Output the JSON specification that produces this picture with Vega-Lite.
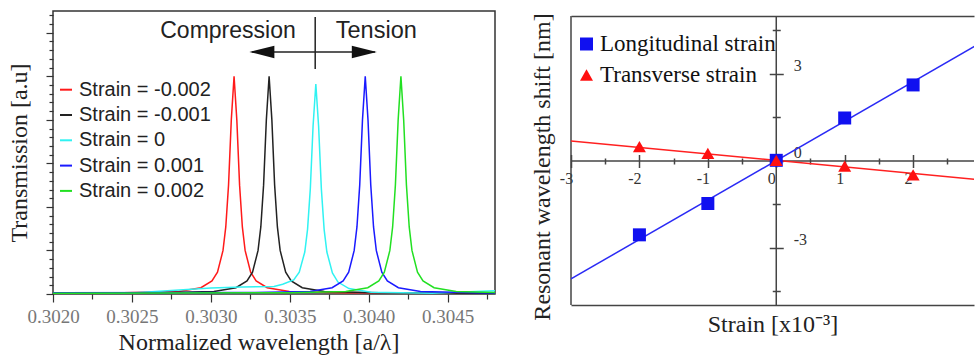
{
  "$schema": "https://vega.github.io/schema/vega-lite/v6.json",
  "background": "white",
  "padding": {"left": 6, "top": 10, "right": 0, "bottom": 0},
  "autosize": {"type": "pad"},
  "spacing": 34,
  "resolve": {"scale": {"color": "independent", "shape": "independent"}, "legend": {"color": "independent", "shape": "independent"}},
  "config": {"view": {"stroke": null}, "axis": {"grid": false}},
  "datasets": {
    "curves": [
      {"s":"-0.002","x":0.302,"y":0.004},{"s":"-0.002","x":0.302447,"y":0.006},{"s":"-0.002","x":0.302797,"y":0.012},{"s":"-0.002","x":0.302937,"y":0.029},{"s":"-0.002","x":0.303007,"y":0.06},{"s":"-0.002","x":0.303042,"y":0.1},{"s":"-0.002","x":0.303077,"y":0.2},{"s":"-0.002","x":0.3030945,"y":0.308},{"s":"-0.002","x":0.303112,"y":0.5},{"s":"-0.002","x":0.3031295,"y":0.8},{"s":"-0.002","x":0.303147,"y":1},{"s":"-0.002","x":0.3031645,"y":0.8},{"s":"-0.002","x":0.303182,"y":0.5},{"s":"-0.002","x":0.3031995,"y":0.308},{"s":"-0.002","x":0.303217,"y":0.2},{"s":"-0.002","x":0.303252,"y":0.1},{"s":"-0.002","x":0.303287,"y":0.06},{"s":"-0.002","x":0.303357,"y":0.029},{"s":"-0.002","x":0.303497,"y":0.012},{"s":"-0.002","x":0.303847,"y":0.006},{"s":"-0.002","x":0.3048,"y":0.004},
      {"s":"-0.001","x":0.302,"y":0.004},{"s":"-0.001","x":0.302669,"y":0.006},{"s":"-0.001","x":0.303019,"y":0.012},{"s":"-0.001","x":0.303159,"y":0.029},{"s":"-0.001","x":0.303229,"y":0.06},{"s":"-0.001","x":0.303264,"y":0.1},{"s":"-0.001","x":0.303299,"y":0.2},{"s":"-0.001","x":0.3033165,"y":0.308},{"s":"-0.001","x":0.303334,"y":0.5},{"s":"-0.001","x":0.3033515,"y":0.8},{"s":"-0.001","x":0.303369,"y":1},{"s":"-0.001","x":0.3033865,"y":0.8},{"s":"-0.001","x":0.303404,"y":0.5},{"s":"-0.001","x":0.3034215,"y":0.308},{"s":"-0.001","x":0.303439,"y":0.2},{"s":"-0.001","x":0.303474,"y":0.1},{"s":"-0.001","x":0.303509,"y":0.06},{"s":"-0.001","x":0.303579,"y":0.029},{"s":"-0.001","x":0.303719,"y":0.012},{"s":"-0.001","x":0.304069,"y":0.006},{"s":"-0.001","x":0.3048,"y":0.004},
      {"s":"0","x":0.302,"y":0.0},{"s":"0","x":0.3025,"y":0.005},{"s":"0","x":0.3028,"y":0.018},{"s":"0","x":0.303,"y":0.028},{"s":"0","x":0.3032,"y":0.032},{"s":"0","x":0.3034,"y":0.035},{"s":"0","x":0.303455,"y":0.045},{"s":"0","x":0.303525,"y":0.065},{"s":"0","x":0.30356,"y":0.1},{"s":"0","x":0.303595,"y":0.193},{"s":"0","x":0.3036125,"y":0.297},{"s":"0","x":0.30363,"y":0.483},{"s":"0","x":0.3036475,"y":0.772},{"s":"0","x":0.303665,"y":0.965},{"s":"0","x":0.3036825,"y":0.772},{"s":"0","x":0.3037,"y":0.483},{"s":"0","x":0.3037175,"y":0.297},{"s":"0","x":0.303735,"y":0.193},{"s":"0","x":0.30377,"y":0.0965},{"s":"0","x":0.303805,"y":0.055},{"s":"0","x":0.303875,"y":0.025},{"s":"0","x":0.304015,"y":0.008},{"s":"0","x":0.3044,"y":0.004},{"s":"0","x":0.3048,"y":0.015},
      {"s":"0.001","x":0.302,"y":0.006},{"s":"0.001","x":0.303278,"y":0.007},{"s":"0.001","x":0.303628,"y":0.012},{"s":"0.001","x":0.303768,"y":0.029},{"s":"0.001","x":0.303838,"y":0.06},{"s":"0.001","x":0.303873,"y":0.1},{"s":"0.001","x":0.303908,"y":0.2},{"s":"0.001","x":0.3039255,"y":0.308},{"s":"0.001","x":0.303943,"y":0.5},{"s":"0.001","x":0.3039605,"y":0.8},{"s":"0.001","x":0.303978,"y":1},{"s":"0.001","x":0.3039955,"y":0.8},{"s":"0.001","x":0.304013,"y":0.5},{"s":"0.001","x":0.3040305,"y":0.308},{"s":"0.001","x":0.304048,"y":0.2},{"s":"0.001","x":0.304083,"y":0.1},{"s":"0.001","x":0.304118,"y":0.06},{"s":"0.001","x":0.304188,"y":0.029},{"s":"0.001","x":0.304328,"y":0.012},{"s":"0.001","x":0.304678,"y":0.006},{"s":"0.001","x":0.3048,"y":0.005},
      {"s":"0.002","x":0.302,"y":0.003},{"s":"0.002","x":0.303504,"y":0.006},{"s":"0.002","x":0.303854,"y":0.012},{"s":"0.002","x":0.303994,"y":0.029},{"s":"0.002","x":0.304064,"y":0.06},{"s":"0.002","x":0.304099,"y":0.1},{"s":"0.002","x":0.304134,"y":0.2},{"s":"0.002","x":0.3041515,"y":0.308},{"s":"0.002","x":0.304169,"y":0.5},{"s":"0.002","x":0.3041865,"y":0.8},{"s":"0.002","x":0.304204,"y":1},{"s":"0.002","x":0.3042215,"y":0.8},{"s":"0.002","x":0.304239,"y":0.5},{"s":"0.002","x":0.3042565,"y":0.308},{"s":"0.002","x":0.304274,"y":0.2},{"s":"0.002","x":0.304309,"y":0.1},{"s":"0.002","x":0.304344,"y":0.06},{"s":"0.002","x":0.304414,"y":0.029},{"s":"0.002","x":0.304554,"y":0.012},{"s":"0.002","x":0.3048,"y":0.007}
    ],
    "fit": [
      {"series":"Longitudinal strain","x":-3,"y":-4.07},{"series":"Longitudinal strain","x":3,"y":4.09},
      {"series":"Transverse strain","x":-3,"y":0.69},{"series":"Transverse strain","x":3,"y":-0.66}
    ],
    "pts": [
      {"series":"Longitudinal strain","x":-2,"y":-2.55},{"series":"Longitudinal strain","x":-1,"y":-1.47},{"series":"Longitudinal strain","x":0,"y":0.02},{"series":"Longitudinal strain","x":1,"y":1.48},{"series":"Longitudinal strain","x":2,"y":2.62},
      {"series":"Transverse strain","x":-2,"y":0.49},{"series":"Transverse strain","x":-1,"y":0.26},{"series":"Transverse strain","x":0,"y":0.02},{"series":"Transverse strain","x":1,"y":-0.18},{"series":"Transverse strain","x":2,"y":-0.48}
    ]
  },
  "hconcat": [
    {
      "width": 442,
      "height": 283,
      "view": {"stroke": "#333", "strokeWidth": 1.5},
      "resolve": {"axis": {"x": "independent", "y": "independent"}},
      "layer": [
        {
          "data": {"name": "curves"},
          "mark": {"type": "line", "strokeWidth": 1.5, "clip": true},
          "encoding": {
            "x": {"field": "x", "type": "quantitative",
              "scale": {"domain": [0.302, 0.3048], "nice": false, "zero": false},
              "axis": {"orient": "bottom", "values": [0.302, 0.3025, 0.303, 0.3035, 0.304, 0.3045], "format": ".4f",
                "tickSize": 8, "tickColor": "#333", "tickWidth": 1.2, "domain": false, "grid": false,
                "labelFont": "Liberation Serif", "labelFontSize": 19, "labelColor": "#777", "labelPadding": 5,
                "labelFlush": false, "labelOverlap": false,
                "title": "Normalized wavelength [a/λ]", "titleFont": "Liberation Serif", "titleFontSize": 24,
                "titleFontWeight": "normal", "titleColor": "#222", "titlePadding": 4, "titleX": 205.5}},
            "y": {"field": "y", "type": "quantitative",
              "scale": {"domain": [0, 1.3], "nice": false, "zero": false},
              "axis": {"orient": "left", "values": [0, 0.2, 0.4, 0.6, 0.8, 1, 1.2], "tickSize": 7, "tickColor": "#333",
                "tickWidth": 1.2, "labels": false, "domain": false, "grid": false,
                "title": "Transmission [a.u]", "titleFont": "Liberation Serif", "titleFontSize": 24,
                "titleFontWeight": "normal", "titleColor": "#222", "titlePadding": 14}},
            "color": {"field": "s", "type": "nominal",
              "scale": {"domain": ["-0.002", "-0.001", "0", "0.001", "0.002"],
                "range": ["#ff1a1a", "#222222", "#30f2f2", "#1a1aff", "#22e022"]},
              "legend": {"orient": "none", "legendX": 3, "legendY": 68.7, "title": null, "padding": 0,
                "labelFont": "Liberation Sans", "labelFontSize": 20, "labelColor": "#222", "labelLimit": 300,
                "labelExpr": "'Strain = ' + datum.label",
                "symbolType": "stroke", "symbolSize": 144, "symbolStrokeWidth": 2,
                "rowPadding": 5.3, "labelOffset": 3}}
          }
        },
        {
          "data": {"values": [{}]},
          "mark": {"type": "text", "text": "Compression", "font": "Liberation Sans", "fontSize": 23, "color": "#222", "align": "center", "baseline": "middle"},
          "encoding": {
            "x": {"datum": 0.3031086, "type": "quantitative",
              "axis": {"orient": "bottom", "values": [0.30225, 0.30275, 0.30325, 0.30375, 0.30425, 0.30475],
                "tickSize": 5, "tickColor": "#333", "tickWidth": 1.2, "labels": false, "domain": false, "grid": false, "title": null}},
            "y": {"datum": 1.208, "type": "quantitative",
              "axis": {"orient": "left", "values": [0.04,0.08,0.12,0.16,0.24,0.28,0.32,0.36,0.44,0.48,0.52,0.56,0.64,0.68,0.72,0.76,0.84,0.88,0.92,0.96,1.04,1.08,1.12,1.16,1.24,1.28],
                "tickSize": 4, "tickColor": "#333", "tickWidth": 1.2, "labels": false, "domain": false, "grid": false, "title": null}}
          }
        },
        {
          "data": {"values": [{}]},
          "mark": {"type": "text", "text": "Tension", "font": "Liberation Sans", "fontSize": 23.5, "color": "#222", "align": "center", "baseline": "middle"},
          "encoding": {
            "x": {"datum": 0.304048, "type": "quantitative", "axis": null},
            "y": {"datum": 1.208, "type": "quantitative", "axis": null}
          }
        },
        {
          "data": {"values": [{}]},
          "mark": {"type": "rule", "color": "#222", "strokeWidth": 1.5},
          "encoding": {
            "x": {"datum": 0.303661, "type": "quantitative", "axis": null},
            "y": {"datum": 1.0335, "type": "quantitative", "axis": null},
            "y2": {"datum": 1.272}
          }
        },
        {
          "data": {"values": [{}]},
          "mark": {"type": "rule", "color": "#222", "strokeWidth": 1.5},
          "encoding": {
            "x": {"datum": 0.30326, "type": "quantitative", "axis": null},
            "x2": {"datum": 0.30404},
            "y": {"datum": 1.112, "type": "quantitative", "axis": null}
          }
        },
        {
          "data": {"values": [{}]},
          "mark": {"type": "point", "shape": "M -1 0 L 1 -0.5 L 1 0.5 Z", "size": 625, "filled": true, "color": "#111", "opacity": 1, "strokeWidth": 0},
          "encoding": {
            "x": {"datum": 0.303323, "type": "quantitative", "axis": null},
            "y": {"datum": 1.112, "type": "quantitative", "axis": null}
          }
        },
        {
          "data": {"values": [{}]},
          "mark": {"type": "point", "shape": "M 1 0 L -1 -0.5 L -1 0.5 Z", "size": 625, "filled": true, "color": "#111", "opacity": 1, "strokeWidth": 0},
          "encoding": {
            "x": {"datum": 0.303972, "type": "quantitative", "axis": null},
            "y": {"datum": 1.112, "type": "quantitative", "axis": null}
          }
        }
      ]
    },
    {
      "width": 403,
      "height": 294,
      "view": {"stroke": null},
      "resolve": {"axis": {"x": "independent", "y": "independent"}},
      "layer": [
        {
          "data": {"values": [{}]},
          "mark": {"type": "rule", "color": "#444", "strokeWidth": 1.5},
          "encoding": {
            "x": {"datum": -3, "type": "quantitative",
              "scale": {"domain": [-3, 2.89], "nice": false, "zero": false},
              "axis": {"orient": "bottom", "offset": -147, "values": [-2.5, -1.5, -0.5, 0.5, 1.5, 2.5],
                "tickSize": 6, "tickColor": "#444", "tickWidth": 1.5, "domain": false, "labels": false, "grid": false, "title": null}},
            "x2": {"datum": 2.89},
            "y": {"datum": 0, "type": "quantitative",
              "scale": {"domain": [-4.97, 5.17], "nice": false, "zero": false}, "axis": null}
          }
        },
        {
          "data": {"values": [{}]},
          "mark": {"type": "rule", "color": "#444", "strokeWidth": 1.5},
          "encoding": {
            "x": {"datum": 0, "type": "quantitative",
              "axis": {"orient": "top", "offset": -5, "domain": true, "domainColor": "#444", "domainWidth": 1.5,
                "ticks": false, "labels": false, "grid": false, "title": null}},
            "y": {"datum": -4.97, "type": "quantitative",
              "axis": {"orient": "right", "offset": -201.74, "values": [-4.5, -1.5, 1.5, 4.5], "tickSize": 8,
                "tickColor": "#444", "tickWidth": 1.5, "domain": false, "labels": false, "grid": false, "title": null}},
            "y2": {"datum": 5}
          }
        },
        {
          "data": {"values": [{}]},
          "mark": {"type": "rule", "color": "#444", "strokeWidth": 1.5},
          "encoding": {
            "x": {"datum": -3, "type": "quantitative", "axis": null},
            "y": {"datum": -4.97, "type": "quantitative",
              "axis": {"orient": "left", "domain": false, "ticks": false, "labels": false, "grid": false,
                "title": "Resonant wavelength shift [nm]", "titleFont": "Liberation Serif", "titleFontSize": 24,
                "titleFontWeight": "normal", "titleColor": "#222", "titlePadding": 17, "titleY": 155.5}},
            "y2": {"datum": 5}
          }
        },
        {
          "data": {"name": "fit"},
          "transform": [{"filter": "datum.series == 'Longitudinal strain'"}],
          "mark": {"type": "line", "color": "#2a2af5", "strokeWidth": 1.5, "clip": true},
          "encoding": {
            "x": {"field": "x", "type": "quantitative",
              "axis": {"orient": "bottom", "domain": true, "domainColor": "#444", "domainWidth": 1.5, "ticks": false,
                "labels": false, "grid": false, "title": "Strain [x10⁻³]", "titleFont": "Liberation Serif",
                "titleFontSize": 24, "titleFontWeight": "normal", "titleColor": "#222", "titlePadding": 7}},
            "y": {"field": "y", "type": "quantitative", "axis": null}
          }
        },
        {
          "data": {"name": "fit"},
          "transform": [{"filter": "datum.series == 'Transverse strain'"}],
          "mark": {"type": "line", "color": "#ff2020", "strokeWidth": 1.5, "clip": true},
          "encoding": {
            "x": {"field": "x", "type": "quantitative", "axis": null},
            "y": {"field": "y", "type": "quantitative", "axis": null}
          }
        },
        {
          "data": {"name": "pts"},
          "mark": {"type": "point", "filled": true, "opacity": 1, "size": 169},
          "encoding": {
            "x": {"field": "x", "type": "quantitative",
              "axis": {"orient": "bottom", "offset": -150.5, "values": [-3, -2, -1, 0, 1, 2], "tickSize": 13,
                "tickColor": "#444", "tickWidth": 1.5, "domain": false, "grid": false,
                "labelFont": "Liberation Serif", "labelFontSize": 16, "labelColor": "#333", "labelPadding": 3,
                "labelOffset": -5, "labelFlush": false, "labelOverlap": false, "labelExpr": "'' + datum.value", "title": null}},
            "y": {"field": "y", "type": "quantitative",
              "axis": {"orient": "right", "offset": -204.74, "values": [-3, 0, 3], "tickSize": 14,
                "tickColor": "#444", "tickWidth": 1.5, "domain": false, "grid": false,
                "labelFont": "Liberation Serif", "labelFontSize": 16, "labelColor": "#333", "labelPadding": 10,
                "labelOffset": -8, "labelFlush": false, "labelOverlap": false, "labelExpr": "'' + datum.value", "title": null}},
            "color": {"field": "series", "type": "nominal",
              "scale": {"domain": ["Longitudinal strain", "Transverse strain"], "range": ["#1010f0", "#ff1010"]},
              "legend": {"orient": "none", "legendX": 4, "legendY": 21.5, "title": null, "padding": 0,
                "labelFont": "Liberation Serif", "labelFontSize": 23, "labelColor": "#111", "labelLimit": 300,
                "symbolSize": 169, "rowPadding": 7, "labelOffset": 2, "symbolOpacity": 1, "symbolStrokeWidth": 0}},
            "shape": {"field": "series", "type": "nominal",
              "scale": {"domain": ["Longitudinal strain", "Transverse strain"], "range": ["square", "triangle-up"]},
              "legend": {"orient": "none", "legendX": 4, "legendY": 21.5, "title": null, "padding": 0,
                "labelFont": "Liberation Serif", "labelFontSize": 23, "labelColor": "#111", "labelLimit": 300,
                "symbolSize": 169, "rowPadding": 7, "labelOffset": 2, "symbolOpacity": 1, "symbolStrokeWidth": 0}}
          }
        }
      ]
    }
  ]
}
